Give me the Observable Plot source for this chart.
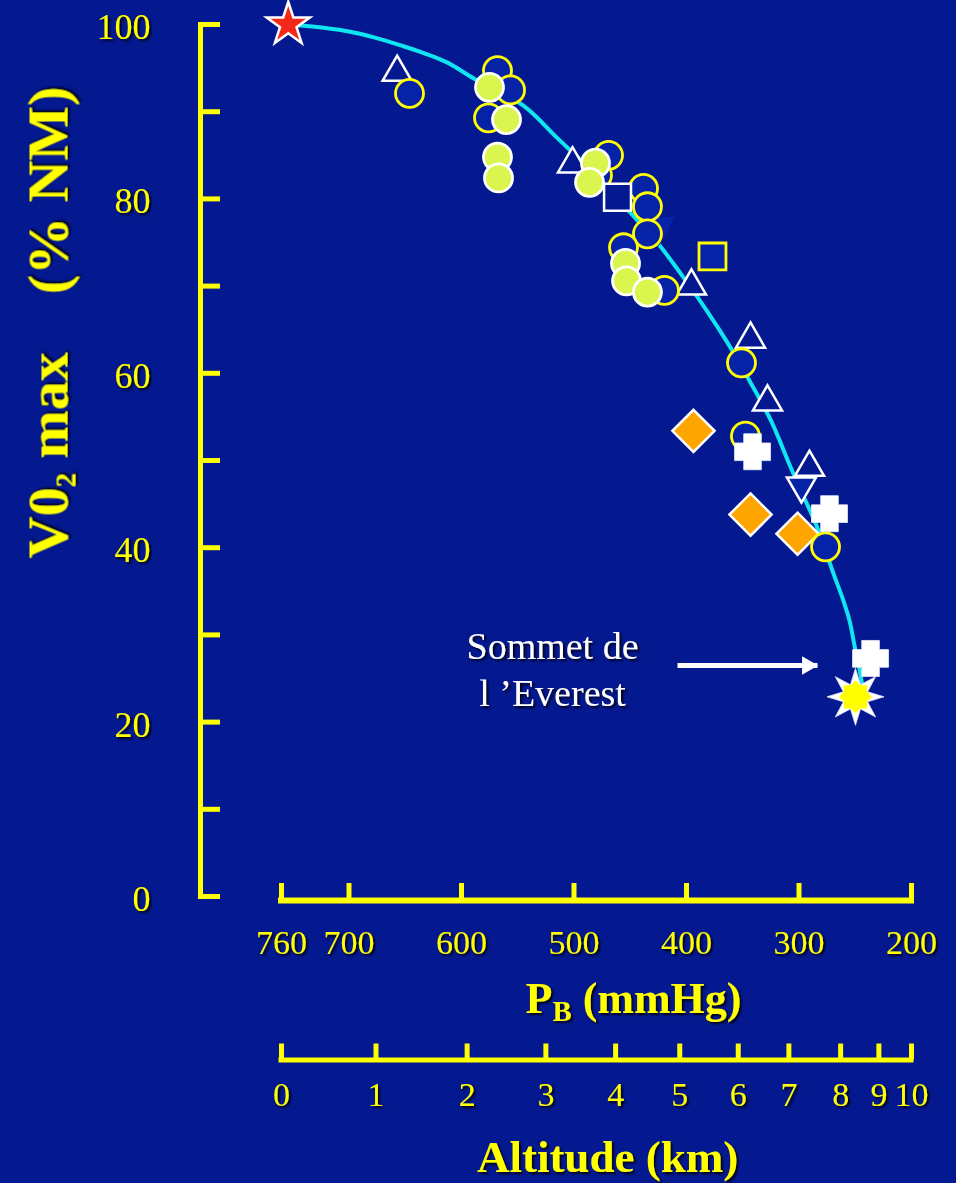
<!DOCTYPE html>
<html><head><meta charset="utf-8">
<script src="https://cdn.jsdelivr.net/npm/d3@7"></script>
<script src="https://cdn.jsdelivr.net/npm/@observablehq/plot@0.6"></script>
<style>
html,body{margin:0;padding:0;background:#041890;}
#chart svg text{filter:url(#ts);}
</style></head><body><div id="chart"></div>
<script>
// ---------- data ----------
const yTicks = [0,10,20,30,40,50,60,70,80,90,100];
const yLabels = [0,20,40,60,80,100];
const pbTicks = [760,700,600,500,400,300,200];
const altKm = [0,1,2,3,4,5,6,7,8,9,10];
const altP  = [760,676,595,525,463,406,354,309,263,229,200];

const curveP = [754,740,721,700,677,654,633,612,589,545,515,485,452,426,405,381,364,346,325,308,296,284,269,261,255,251,246,244];
const curveV = [100,99.85,99.6,99.2,98.5,97.6,96.7,95.6,93.8,90.7,87.0,83.3,78.7,75.0,71.4,67.0,63.6,59.6,54.6,49.4,45.9,42.4,36.9,34.1,31.6,29.0,25.9,24.4];

const openCircP = [646.2,568,556.4,576,469.3,479.1,438.2,434.7,434.7,456,419.6,351.1,347.6,276.4];
const openCircV = [92.1,94.7,92.5,89.3,85.0,82.7,81.2,79.1,76.0,74.4,69.5,61.2,52.8,40.1];

const greenP = [575.1,560,568,567.1,480.9,486.2,454.2,453.3,434.7];
const greenV = [92.8,89.1,84.8,82.4,84.1,81.9,72.6,70.6,69.3];

const triUpP = [657.2,501.3,395.6,343.1,328,290.7];
const triUpV = [94.5,84.0,70.0,63.9,56.7,49.2];

const triDownP = [297.8];
const triDownV = [47.1];

const faintTriP = [424.9];
const faintTriV = [76.8];

const whiteSqP = [461.3];
const whiteSqV = [80.2];
const yellowSqP = [376.9];
const yellowSqV = [73.4];

const diamondP = [393.8,343.1,301.3];
const diamondV = [53.4,43.8,41.6];

const crossP = [341.3,272.9,236.4];
const crossV = [51.0,43.9,27.3];

const sunP = [249.8];
const sunV = [22.9];

const starP = [754];
const starV = [100];

const arrowX1 = 408, arrowX2 = 283.6, arrowY = 26.5;
const annText = "Sommet de\nl \u2019Everest";
const annP = 519.1, annV = 26.3;

const yTitle = "V0_2 max\u00a0\u00a0\u00a0\u00a0(% NM)";
const pbTitle = "P_B (mmHg)";
const altTitle = "Altitude (km)";

// ---------- styles ----------
const bg = "#041890";
const yellow = "#ffff00";
const circFill = "#0622a6";
const green = "#d9f54e";
const cyan = "#10e6f2";
const orange = "#ffa500";

const pts = (P, V) => P.map((p, i) => ({p, v: V[i]}));
const kmByP = new Map(altP.map((p, i) => [p, altKm[i]]));

const crossSym = {draw(ctx, size) {
  const a = Math.sqrt(size / Math.PI), b = a * 0.49;
  ctx.moveTo(-b,-a); ctx.lineTo(b,-a); ctx.lineTo(b,-b); ctx.lineTo(a,-b);
  ctx.lineTo(a,b); ctx.lineTo(b,b); ctx.lineTo(b,a); ctx.lineTo(-b,a);
  ctx.lineTo(-b,b); ctx.lineTo(-a,b); ctx.lineTo(-a,-b); ctx.lineTo(-b,-b);
  ctx.closePath();
}};
function burst(kInner) {
  return {draw(ctx, size) {
    const R = Math.sqrt(size / Math.PI), r = R * kInner;
    for (let i = 0; i < 16; ++i) {
      const ang = -Math.PI / 2 + i * Math.PI / 8;
      const rr = i % 2 === 0 ? R : r;
      const x = rr * Math.cos(ang), y = rr * Math.sin(ang);
      if (i === 0) ctx.moveTo(x, y); else ctx.lineTo(x, y);
    }
    ctx.closePath();
  }};
}

const axisFont = {fontSize: 34};

const plot = Plot.plot({
  width: 956, height: 1183,
  marginLeft: 200, marginRight: 45, marginTop: 24, marginBottom: 287,
  style: {background: bg, color: yellow, fontFamily: "'Liberation Serif','Times New Roman',serif", overflow: "visible"},
  x: {domain: [760, 200], range: [281, 911]},
  y: {domain: [0, 100]},
  marks: [
    // y axis
    Plot.frame({anchor: "left", stroke: yellow, strokeWidth: 5, strokeLinecap: "square"}),
    Plot.axisY({ticks: yTicks, tickSize: -20, strokeWidth: 5, fill: "none", label: null}),
    Plot.axisY({ticks: yLabels, tickSize: 0, tickPadding: 50, fontSize: 36, dy: 3, label: null}),
    // PB axis
    Plot.ruleY([0], {x1: pbTicks[0], x2: pbTicks[pbTicks.length - 1], dy: 4, stroke: yellow, strokeWidth: 6, strokeLinecap: "square"}),
    Plot.axisX({ticks: pbTicks, tickSize: -17, strokeWidth: 5, dy: 4, fill: "none", label: null}),
    Plot.axisX({ticks: pbTicks, tickSize: 0, tickPadding: 33, ...axisFont, label: null}),
    // altitude axis
    Plot.ruleY([0], {x1: altP[0], x2: altP[altP.length - 1], dy: 163.5, stroke: yellow, strokeWidth: 5, strokeLinecap: "square"}),
    Plot.axisX({ticks: altP, tickSize: -16, strokeWidth: 5, dy: 163.5, fill: "none", label: null}),
    Plot.axisX({ticks: altP, tickSize: 0, tickPadding: 185, tickFormat: d => kmByP.get(d), ...axisFont, label: null}),
    // titles
    Plot.text([yTitle], {frameAnchor: "left", dx: -152, dy: -138, rotate: -90, fontSize: 58, fontWeight: "bold", fill: yellow, textAnchor: "middle", lineAnchor: "middle"}),
    Plot.text([pbTitle], {frameAnchor: "bottom", dx: 77.5, dy: 116, fontSize: 44, fontWeight: "bold", fill: yellow, textAnchor: "middle", lineAnchor: "bottom"}),
    Plot.text([altTitle], {frameAnchor: "bottom", dx: 51.5, dy: 275, fontSize: 45, fontWeight: "bold", fill: yellow, textAnchor: "middle", lineAnchor: "bottom"}),
    // curve
    Plot.line(pts(curveP, curveV), {x: "p", y: "v", stroke: cyan, strokeWidth: 4, curve: "catmull-rom"}),
    // symbols
    Plot.dot(pts(faintTriP, faintTriV), {x: "p", y: "v", symbol: "triangle", rotate: 180, r: 12.5, fill: "#0722a8", stroke: "none"}),
    Plot.dot(pts(diamondP, diamondV), {x: "p", y: "v", symbol: "diamond2", r: 19, fill: orange, stroke: "white", strokeWidth: 2.5}),
    Plot.dot(pts(triUpP, triUpV), {x: "p", y: "v", symbol: "triangle", r: 10.8, fill: bg, stroke: "white", strokeWidth: 2.5}),
    Plot.dot(pts(triDownP, triDownV), {x: "p", y: "v", symbol: "triangle", rotate: 180, r: 10.8, fill: circFill, stroke: "white", strokeWidth: 2.5}),
    Plot.dot(pts(yellowSqP, yellowSqV), {x: "p", y: "v", symbol: "square", r: 15.2, fill: circFill, stroke: yellow, strokeWidth: 2.8}),
    Plot.dot(pts(openCircP, openCircV), {x: "p", y: "v", r: 14, fill: circFill, stroke: yellow, strokeWidth: 2.8}),
    Plot.dot(pts(whiteSqP, whiteSqV), {x: "p", y: "v", symbol: "square", r: 15.2, fill: bg, stroke: "white", strokeWidth: 2.5}),
    Plot.dot(pts(greenP, greenV), {x: "p", y: "v", r: 14, fill: green, stroke: "white", strokeWidth: 2.8}),
    Plot.dot(pts(crossP, crossV), {x: "p", y: "v", symbol: crossSym, r: 18, fill: "white", stroke: "#e8ecf8", strokeWidth: 0.8}),
    Plot.dot(pts(sunP, sunV), {x: "p", y: "v", symbol: burst(0.46), r: 28.5, fill: "white", stroke: "#dde3f5", strokeWidth: 0.8}),
    Plot.dot(pts(sunP, sunV), {x: "p", y: "v", symbol: burst(0.76), r: 16.5, fill: yellow, stroke: "none"}),
    Plot.dot(pts(sunP, sunV), {x: "p", y: "v", r: 12.5, fill: yellow, stroke: "none"}),
    Plot.dot(pts(starP, starV), {x: "p", y: "v", symbol: "star", r: 13.6, fill: "#f5291a", stroke: "white", strokeWidth: 2.5}),
    // annotation
    Plot.link([0], {x1: arrowX1, x2: arrowX2, y1: arrowY, y2: arrowY, stroke: "white", strokeWidth: 5}),
    Plot.dot([0], {x: arrowX2, y: arrowY, symbol: "triangle", rotate: 90, r: 6.9, dx: -10, fill: "white", stroke: "none"}),
    Plot.text([annText], {x: annP, y: annV, fill: "white", fontSize: 38, lineHeight: 1.24, lineAnchor: "middle", textAnchor: "middle"})
  ]
});

// text shadow filter
d3.select(plot).insert("defs", ":first-child").html(
  '<filter id="ts" x="-10%" y="-20%" width="130%" height="150%"><feDropShadow dx="2" dy="2" stdDeviation="1.2" flood-color="#000" flood-opacity="0.85"/></filter>'
);

// subscripts: "X_Y" -> X with subscript Y
d3.select(plot).selectAll("text").each(function() {
  if (this.querySelector("tspan")) return;
  const s = this.textContent;
  const m = s.match(/^(.*?)_(.)(.*)$/);
  if (!m) return;
  const F = parseFloat(getComputedStyle(this).fontSize) || 40;
  this.textContent = "";
  const ns = "http://www.w3.org/2000/svg";
  const t1 = document.createElementNS(ns, "tspan"); t1.textContent = m[1];
  const t2 = document.createElementNS(ns, "tspan"); t2.textContent = m[2];
  t2.setAttribute("font-size", (F * 0.72) + "px"); t2.setAttribute("dy", (F * 0.22) + "px");
  const t3 = document.createElementNS(ns, "tspan"); t3.textContent = m[3];
  t3.setAttribute("dy", (-F * 0.22) + "px");
  this.append(t1, t2, t3);
});

document.getElementById("chart").append(plot);
</script></body></html>
